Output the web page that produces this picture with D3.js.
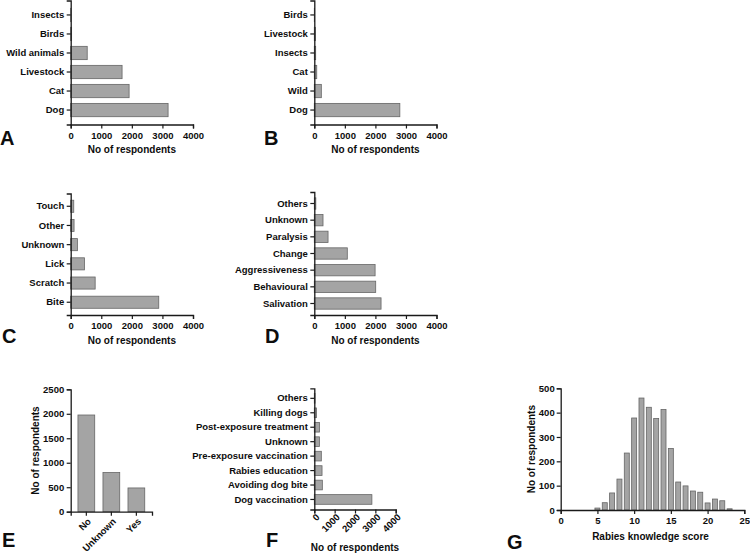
<!DOCTYPE html>
<html>
<head>
<meta charset="utf-8">
<script src="https://cdn.jsdelivr.net/npm/d3@7"></script>
<style>
  html, body { margin: 0; padding: 0; background: #fff; }
  svg { display: block; }
  text { font-family: "Liberation Sans", Arial, sans-serif; font-weight: bold; fill: #0d0d0d; }
</style>
</head>
<body>
<svg id="chart" width="750" height="554"></svg>
<script>
// ---------------- DATA ----------------
const countTicks = [0, 1000, 2000, 3000, 4000];

const panelA_categories = ["Insects", "Birds", "Wild animals", "Livestock", "Cat", "Dog"];
const panelA_values     = [5, 30, 540, 1680, 1910, 3185];

const panelB_categories = ["Birds", "Livestock", "Insects", "Cat", "Wild", "Dog"];
const panelB_values     = [5, 40, 45, 80, 230, 2800];

const panelC_categories = ["Touch", "Other", "Unknown", "Lick", "Scratch", "Bite"];
const panelC_values     = [100, 110, 220, 450, 800, 2880];

const panelD_categories = ["Others", "Unknown", "Paralysis", "Change", "Aggressiveness", "Behavioural", "Salivation"];
const panelD_values     = [50, 285, 450, 1080, 1990, 2010, 2185];

const panelE_categories = ["No", "Unknown", "Yes"];
const panelE_values     = [1975, 800, 485];
const panelE_ticks      = [0, 500, 1000, 1500, 2000, 2500];

const panelF_categories = ["Others", "Killing dogs", "Post-exposure treatment", "Unknown",
                           "Pre-exposure vaccination", "Rabies education", "Avoiding dog bite", "Dog vaccination"];
const panelF_values     = [35, 110, 255, 250, 345, 380, 395, 2830];

const panelG_scores = [5, 6, 7, 8, 9, 10, 11, 12, 13, 14, 15, 16, 17, 18, 19, 20, 21, 22, 23];
const panelG_counts = [8, 30, 70, 127, 234, 378, 460, 422, 376, 413, 253, 115, 99, 78, 73, 29, 45, 38, 5];
const panelG_xTicks = [0, 5, 10, 15, 20, 25];
const panelG_yTicks = [0, 100, 200, 300, 400, 500];

const countTitle = "No of respondents";
const scoreTitle = "Rabies knowledge score";

// ---------------- STYLE ----------------
const BAR_FILL = "#a4a4a4";
const BAR_STROKE = "#666";
const AXIS_COLOR = "#1a1a1a";
const TICK_FONT = 9.5;
const TITLE_FONT = 10;
const LETTER_FONT = 20;

const svg = d3.select("#chart");
svg.append("rect").attr("width", 750).attr("height", 554).attr("fill", "#fff");

function styleAxis(g) {
  g.selectAll("path.domain").attr("stroke", AXIS_COLOR).attr("stroke-width", 1.3);
  g.selectAll(".tick line").attr("stroke", AXIS_COLOR).attr("stroke-width", 1.2);
  g.selectAll(".tick text")
    .attr("font-family", "'Liberation Sans', Arial, sans-serif")
    .attr("font-weight", "bold")
    .attr("font-size", TICK_FONT);
}

function letter(txt, x, y) {
  svg.append("text").attr("x", x).attr("y", y).attr("font-size", LETTER_FONT).text(txt);
}

function hbar(o) {
  const g = svg.append("g");
  const x = d3.scaleLinear().domain([0, 4000]).range([o.x0, o.x1]);
  const y = d3.scaleBand().domain(o.cats).range([o.yTop, o.yBot])
    .paddingInner(o.pi).paddingOuter(o.po);

  g.selectAll("rect.bar").data(o.cats.map((c, i) => ({ c, v: o.vals[i] })))
    .join("rect").attr("class", "bar")
    .attr("x", x(0))
    .attr("y", d => y(d.c))
    .attr("width", d => x(d.v) - x(0))
    .attr("height", y.bandwidth())
    .attr("fill", BAR_FILL).attr("stroke", BAR_STROKE).attr("stroke-width", 0.8);

  const yAx = g.append("g").attr("transform", `translate(${o.x0},0)`)
    .call(d3.axisLeft(y).tickSizeOuter(0).tickSize(4).tickPadding(2.5));
  styleAxis(yAx);

  const xAx = g.append("g").attr("transform", `translate(0,${o.yBot})`)
    .call(d3.axisBottom(x).tickValues(countTicks).tickFormat(d3.format("d")).tickSizeOuter(0).tickSize(4).tickPadding(3.5));
  styleAxis(xAx);
  if (o.rotate) {
    xAx.selectAll(".tick text")
      .attr("text-anchor", "end")
      .attr("dy", "0.35em")
      .attr("transform", "translate(3,6) rotate(-45)")
      .attr("y", 0).attr("x", 0);
  }

  g.append("text").attr("x", (o.x0 + o.x1) / 2).attr("y", o.titleY)
    .attr("text-anchor", "middle").attr("font-size", TITLE_FONT).text(countTitle);
  letter(o.letter, o.lx, o.ly);
}

hbar({ cats: panelA_categories, vals: panelA_values, x0: 70.7, x1: 193, yTop: 0.5, yBot: 124.5,
       pi: 0.3, po: 0.41, titleY: 152.5, letter: "A", lx: 0, ly: 145 });
hbar({ cats: panelB_categories, vals: panelB_values, x0: 314.3, x1: 436.5, yTop: 0.5, yBot: 124.5,
       pi: 0.3, po: 0.41, titleY: 152.5, letter: "B", lx: 264, ly: 145 });
hbar({ cats: panelC_categories, vals: panelC_values, x0: 70.7, x1: 193, yTop: 193.5, yBot: 315,
       pi: 0.37, po: 0.35, titleY: 343.5, letter: "C", lx: 2, ly: 342.5 });
hbar({ cats: panelD_categories, vals: panelD_values, x0: 314.3, x1: 436.5, yTop: 192, yBot: 315,
       pi: 0.32, po: 0.35, titleY: 343.5, letter: "D", lx: 265, ly: 342.5 });
hbar({ cats: panelF_categories, vals: panelF_values, x0: 314.3, x1: 395.7, yTop: 388.3, yBot: 509.5,
       pi: 0.33, po: 0.36, titleY: 551, letter: "F", lx: 266, ly: 546.5, rotate: true });

// ---------------- Panel E (vertical bars) ----------------
(function () {
  const g = svg.append("g");
  const x0 = 70.7, x1 = 152, yTop = 389.3, yBot = 511.7;
  const x = d3.scaleBand().domain(panelE_categories).range([x0, x1]).paddingInner(0.33).paddingOuter(0.29);
  const y = d3.scaleLinear().domain([0, 2500]).range([yBot, yTop]);

  g.selectAll("rect").data(panelE_categories.map((c, i) => ({ c, v: panelE_values[i] })))
    .join("rect")
    .attr("x", d => x(d.c)).attr("width", x.bandwidth())
    .attr("y", d => y(d.v)).attr("height", d => y(0) - y(d.v))
    .attr("fill", BAR_FILL).attr("stroke", BAR_STROKE).attr("stroke-width", 0.8);

  const yAx = g.append("g").attr("transform", `translate(${x0},0)`)
    .call(d3.axisLeft(y).tickValues(panelE_ticks).tickFormat(d3.format("d")).tickSizeOuter(0).tickSize(4).tickPadding(2.5));
  styleAxis(yAx);
  const xAx = g.append("g").attr("transform", `translate(0,${yBot})`)
    .call(d3.axisBottom(x).tickSizeOuter(0).tickSize(4).tickPadding(3));
  styleAxis(xAx);
  xAx.selectAll(".tick text")
    .attr("text-anchor", "end").attr("dy", "0.35em").attr("x", 0).attr("y", 0)
    .attr("transform", "translate(3,8) rotate(-45)");

  g.append("text").attr("transform", `translate(39,${(yTop + yBot) / 2}) rotate(-90)`)
    .attr("text-anchor", "middle").attr("font-size", TITLE_FONT).text(countTitle);
  letter("E", 2, 546.5);
})();

// ---------------- Panel G (histogram) ----------------
(function () {
  const g = svg.append("g");
  const x0 = 560.7, x1 = 744.3, yTop = 388.3, yBot = 510;
  const x = d3.scaleLinear().domain([0, 25]).range([x0, x1]);
  const y = d3.scaleLinear().domain([0, 500]).range([yBot, yTop]);
  const barW = 0.68; // in score units

  g.selectAll("rect").data(panelG_scores.map((s, i) => ({ s, v: panelG_counts[i] })))
    .join("rect")
    .attr("x", d => x(d.s - barW / 2)).attr("width", x(barW) - x(0))
    .attr("y", d => y(d.v)).attr("height", d => y(0) - y(d.v))
    .attr("fill", BAR_FILL).attr("stroke", BAR_STROKE).attr("stroke-width", 0.8);

  const yAx = g.append("g").attr("transform", `translate(${x0},0)`)
    .call(d3.axisLeft(y).tickValues(panelG_yTicks).tickSizeOuter(0).tickSize(4).tickPadding(2));
  styleAxis(yAx);
  const xAx = g.append("g").attr("transform", `translate(0,${yBot})`)
    .call(d3.axisBottom(x).tickValues(panelG_xTicks).tickSizeOuter(0).tickSize(4).tickPadding(3));
  styleAxis(xAx);

  g.append("text").attr("transform", `translate(535,${(yTop + yBot) / 2}) rotate(-90)`)
    .attr("text-anchor", "middle").attr("font-size", TITLE_FONT).text(countTitle);
  g.append("text").attr("x", (x0 + x1) / 2 - 2).attr("y", 540)
    .attr("text-anchor", "middle").attr("font-size", TITLE_FONT).text(scoreTitle);
  letter("G", 507, 548.5);
})();
</script>
</body>
</html>
